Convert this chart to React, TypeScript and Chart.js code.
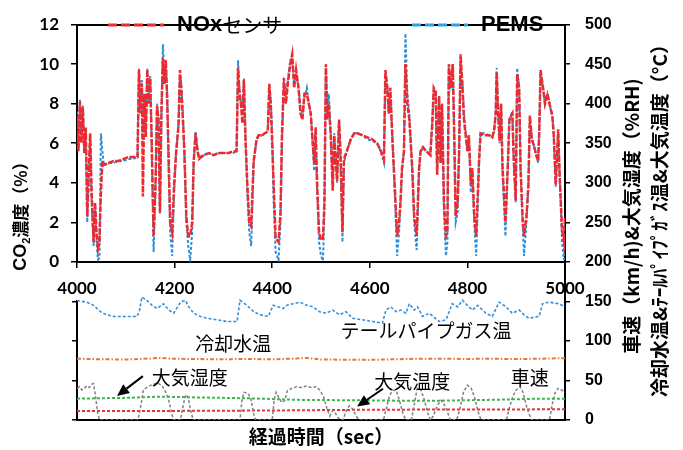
import React, { useEffect, useRef } from 'react';
import { Chart, registerables } from 'chart.js';

Chart.register(...registerables);

// ---- CO2 concentration (top panel, left axis, %) ----
const co2Time = [
  4000, 4003, 4006, 4009, 4012, 4015, 4018, 4021, 4024, 4027,
  4030, 4034, 4037, 4040, 4043, 4046, 4049, 4052, 4055, 4065,
  4075, 4085, 4095, 4105, 4115, 4124, 4127, 4130, 4133, 4135,
  4138, 4141, 4144, 4147, 4150, 4153, 4157, 4161, 4164, 4167,
  4170, 4173, 4176, 4179, 4182, 4185, 4188, 4191, 4195, 4199,
  4203, 4208, 4211, 4214, 4217, 4220, 4224, 4228, 4232, 4236,
  4239, 4243, 4247, 4250, 4260, 4270, 4280, 4290, 4300, 4310,
  4320, 4327, 4330, 4333, 4336, 4339, 4342, 4345, 4349, 4353,
  4357, 4362, 4368, 4372, 4379, 4385, 4391, 4394, 4397, 4400,
  4403, 4407, 4413, 4417, 4420, 4424, 4428, 4432, 4437, 4441,
  4445, 4449, 4454, 4458, 4462, 4466, 4471, 4475, 4479, 4482,
  4486, 4489, 4492, 4496, 4500, 4504, 4507, 4510, 4513, 4516,
  4520, 4524, 4527, 4533, 4537, 4540, 4544, 4547, 4553, 4561,
  4568, 4575, 4585, 4595, 4605, 4615, 4622, 4629, 4632, 4636,
  4639, 4642, 4646, 4651, 4656, 4660, 4663, 4666, 4670, 4673,
  4677, 4681, 4687, 4691, 4696, 4701, 4704, 4709, 4715, 4720,
  4724, 4728, 4731, 4735, 4738, 4742, 4745, 4748, 4752, 4756,
  4759, 4762, 4766, 4770, 4773, 4776, 4780, 4783, 4786, 4790,
  4793, 4800, 4803, 4807, 4810, 4814, 4818, 4824, 4827, 4835,
  4845, 4851, 4855, 4858, 4860, 4863, 4866, 4869, 4872, 4878,
  4883, 4886, 4892, 4895, 4899, 4902, 4906, 4909, 4913, 4916,
  4921, 4925, 4928, 4932, 4936, 4941, 4945, 4947, 4950, 4955,
  4959, 4964, 4970, 4974, 4977, 4981, 4986, 4989, 4994, 4998,
  5000,
];
const noxSensor = [
  7.4, 5.6, 8.1, 6.0, 7.8, 5.5, 6.8, 2.3, 4.5, 6.5,
  3.5, 1.0, 3.0, 1.5, 0.65, 1.0, 3.5, 5.1, 4.9, 5.0,
  5.1, 5.1, 5.2, 5.3, 5.3, 5.3, 9.7, 7.5, 9.0, 3.3,
  8.5, 6.3, 9.7, 8.0, 9.3, 6.1, 1.3, 4.0, 7.9, 7.2,
  2.5, 7.5, 10.3, 9.0, 10.2, 8.0, 5.0, 2.0, 1.5, 3.9,
  5.5, 6.9, 9.7, 8.5, 7.2, 5.6, 2.3, 1.3, 1.3, 2.0,
  5.0, 6.5, 5.6, 5.2, 5.4, 5.5, 5.4, 5.5, 5.5, 5.5,
  5.6, 5.6, 9.8, 8.5, 8.0, 7.0, 9.2, 6.4, 3.9, 2.0,
  1.8, 5.1, 6.2, 6.4, 6.4, 6.5, 6.6, 9.0, 8.0, 6.0,
  3.9, 1.2, 1.0, 2.5, 6.4, 9.3, 8.0, 9.0, 10.0, 10.5,
  8.8, 9.7, 8.8, 7.5, 7.2, 8.5, 8.5, 8.0, 7.5, 6.4,
  5.0, 6.8, 4.0, 1.5, 1.1, 1.2, 3.0, 10.0, 7.2, 8.0,
  6.4, 3.6, 6.4, 4.1, 7.2, 5.6, 1.5, 5.2, 5.6, 6.2,
  6.5, 6.5, 6.4, 6.3, 6.2, 6.0, 5.65, 5.2, 9.7, 8.8,
  7.5, 8.8, 6.4, 3.9, 1.3, 2.0, 3.1, 4.75, 5.6, 10.0,
  8.0, 7.2, 4.75, 2.3, 1.3, 4.75, 5.6, 5.8, 5.6, 5.5,
  5.4, 7.0, 8.8, 8.6, 4.4, 8.4, 5.0, 8.0, 3.0, 1.3,
  1.5, 10.0, 8.8, 10.0, 6.4, 2.3, 3.0, 5.6, 10.5, 8.8,
  7.2, 5.6, 6.4, 3.9, 4.75, 2.3, 1.3, 5.2, 6.5, 6.4,
  6.4, 6.3, 6.7, 7.5, 9.6, 7.5, 6.1, 8.0, 4.75, 2.0,
  5.0, 7.2, 7.5, 5.2, 3.1, 9.5, 8.8, 4.75, 2.3, 1.3,
  2.3, 3.9, 7.4, 6.2, 5.9, 5.4, 5.1, 6.4, 9.7, 8.8,
  8.0, 8.5, 7.8, 7.4, 6.4, 3.9, 6.7, 4.4, 1.6, 1.0,
  2.3,
];
const pems = [
  7.6, 5.8, 8.2, 6.3, 7.9, 5.7, 6.6, 2.0, 4.0, 6.4,
  3.0, 0.8, 2.8, 1.0, 0.1, 0.2, 6.5, 5.6, 4.9, 5.0,
  5.0, 5.1, 5.1, 5.2, 5.2, 5.3, 9.8, 7.8, 9.2, 6.5,
  8.5, 6.5, 9.8, 8.0, 9.4, 6.0, 0.5, 4.0, 8.0, 7.2,
  2.45, 7.5, 11.0, 9.5, 10.0, 8.5, 4.5, 1.5, 0.3, 3.5,
  5.5, 6.9, 9.5, 9.0, 7.5, 5.5, 2.0, 0.8, 0.1, 1.5,
  5.0, 6.6, 5.7, 5.3, 5.4, 5.5, 5.4, 5.5, 5.5, 5.5,
  5.5, 5.6, 10.2, 8.7, 8.0, 7.5, 9.3, 6.5, 3.5, 1.5,
  0.8, 5.0, 6.2, 6.3, 6.4, 6.5, 6.6, 8.8, 8.2, 6.5,
  3.0, 0.5, 0.08, 2.0, 6.0, 9.0, 8.5, 9.2, 10.2, 10.3,
  9.0, 9.5, 8.8, 7.8, 7.5, 8.3, 8.8, 8.0, 7.5, 6.4,
  4.6, 6.5, 3.6, 1.0, 0.3, 0.05, 2.5, 9.8, 7.5, 8.5,
  6.5, 4.0, 6.5, 4.0, 7.0, 5.0, 1.0, 5.0, 5.6, 6.2,
  6.5, 6.5, 6.4, 6.2, 6.1, 6.0, 5.6, 5.0, 9.5, 8.8,
  7.5, 8.5, 6.4, 3.5, 0.3, 1.5, 3.0, 4.6, 5.6, 11.55,
  8.5, 7.5, 4.5, 2.0, 0.6, 4.6, 5.5, 5.8, 5.6, 5.5,
  5.4, 7.0, 8.6, 8.6, 4.5, 8.3, 5.0, 8.0, 2.5, 0.3,
  1.0, 9.8, 9.0, 10.0, 6.5, 2.0, 2.5, 5.5, 10.0, 9.0,
  7.5, 5.6, 6.4, 3.5, 4.6, 2.0, 0.3, 5.0, 6.5, 6.5,
  6.4, 6.3, 6.6, 7.6, 9.8, 7.6, 6.0, 8.0, 4.5, 1.3,
  4.9, 7.2, 7.6, 5.1, 3.0, 9.8, 8.8, 4.5, 2.0, 0.3,
  2.0, 3.8, 7.2, 6.3, 5.9, 5.4, 5.0, 6.4, 9.5, 8.8,
  8.0, 8.5, 7.8, 7.4, 6.4, 3.8, 6.5, 4.4, 1.0, 0.1,
  2.0,
];

// ---- bottom panel (right axis) ----
const speedTime = [
  4000, 4005, 4010, 4015, 4020, 4025, 4030, 4034, 4038, 4042,
  4046, 4125, 4130, 4136, 4145, 4155, 4165, 4175, 4182, 4188,
  4194, 4198, 4212, 4218, 4223, 4228, 4233, 4238, 4334, 4338,
  4342, 4350, 4356, 4362, 4366, 4400, 4404, 4408, 4414, 4420,
  4426, 4431, 4440, 4450, 4460, 4470, 4480, 4490, 4497, 4505,
  4512, 4518, 4524, 4530, 4536, 4545, 4552, 4558, 4565, 4572,
  4578, 4628, 4634, 4640, 4647, 4655, 4662, 4668, 4674, 4685,
  4690, 4697, 4705, 4712, 4718, 4724, 4730, 4738, 4746, 4752,
  4758, 4765, 4778, 4785, 4792, 4800, 4808, 4815, 4822, 4828,
  4880, 4886, 4893, 4900, 4908, 4914, 4920, 4926, 4932, 4968,
  4974, 4980, 4986, 4993, 5000,
];
const vehicleSpeed = [
  40, 42, 38, 40, 43, 41, 45, 46, 30, 10,
  0, 0, 15, 38, 42, 45, 47, 43, 35, 25,
  8, 0, 0, 20, 32, 28, 12, 0, 0, 25,
  35, 34, 28, 8, 0, 0, 25, 35, 28, 22,
  25, 37, 40, 42, 41, 43, 41, 42, 38, 30,
  15, 5, 12, 8, 2, 0, 12, 18, 14, 5,
  0, 0, 15, 30, 38, 36, 22, 8, 0, 0,
  15, 40, 38, 25, 10, 0, 5, 18, 25, 20,
  12, 0, 0, 15, 35, 44, 40, 28, 10, 0,
  0, 15, 30, 38, 42, 35, 20, 8, 0, 0,
  20, 35, 40, 38, 35,
];
const tailTime = [
  4000, 4020, 4034, 4048, 4061, 4075, 4095, 4123, 4128, 4133,
  4143, 4154, 4164, 4177, 4188, 4198, 4212, 4222, 4229, 4239,
  4253, 4266, 4287, 4307, 4328, 4334, 4348, 4362, 4375, 4392,
  4402, 4413, 4422, 4430, 4443, 4457, 4471, 4484, 4497, 4510,
  4524, 4538, 4551, 4565, 4585, 4606, 4626, 4633, 4643, 4654,
  4664, 4674, 4681, 4691, 4698, 4708, 4722, 4742, 4756, 4769,
  4780, 4790, 4800, 4810, 4821, 4838, 4851, 4865, 4879, 4892,
  4906, 4916, 4926, 4947, 4954, 4967, 4988, 5000,
];
const tailpipeTemp = [
  151, 149, 145, 137, 133, 131, 130.8, 131, 138, 155.5,
  151.4, 145, 141, 147, 139, 135, 149, 151.4, 143, 135,
  131, 128.7, 126.7, 124.6, 124.6, 151.4, 145, 137, 133, 131,
  145, 143, 141, 145, 147, 149, 145, 143, 137, 135,
  139, 133, 137, 128.7, 126.7, 124.6, 122.5, 139, 143, 137,
  139, 135, 147, 139, 143, 131, 135, 124.6, 126.7, 147,
  143, 151.4, 145, 139, 145, 135, 131, 149, 143, 135,
  139, 133, 128.7, 131, 147, 149, 147, 143,
];
const coolantTime = [4000, 4050, 4100, 4150, 4170, 4200, 4250, 4300, 4350, 4400, 4450, 4470, 4500, 4550, 4600, 4650, 4700, 4750, 4800, 4850, 4900, 4950, 5000];
const coolantTemp = [77.5, 76.8, 76.5, 77.8, 78.5, 77.5, 77.0, 76.8, 77.2, 76.8, 77.8, 78.5, 76.5, 76.2, 76.0, 76.8, 77.5, 77.5, 77.2, 77.5, 77.0, 77.5, 78.2];
const humidityTime = [4000, 4100, 4170, 4250, 4350, 4450, 4550, 4650, 4750, 4850, 4950, 5000];
const airHumidity = [27, 28, 29.5, 28.5, 27.5, 25.5, 25, 24.5, 24.5, 25.5, 27, 27];
const airTempTime = [4000, 4200, 4400, 4600, 4800, 5000];
const airTemp = [11.5, 11.5, 12, 13, 13.3, 13.5];

// ---- texts ----
const xTitle = '経過時間（sec）';
const rightTitleLines = ['車速（km/h)&大気湿度（%RH)', '冷却水温&ﾃｰﾙﾊﾟｲﾌﾟｶﾞｽ温&大気温度（°C）'];
const annotations = [
  { text: '冷却水温', t: 4320, v: 97 },
  { text: 'テールパイプガス温', t: 4715, v: 113 },
  { text: '大気湿度', t: 4231, v: 54 },
  { text: '大気温度', t: 4687, v: 48 },
  { text: '車速', t: 4928, v: 53 },
];
const arrowList = [
  { from: [4135, 55.5], to: [4082, 30.5] },
  { from: [4627, 39.5], to: [4574, 17] },
];

const zip = (xs: number[], ys: number[]) => xs.map((x, i) => ({ x, y: ys[i] }));

const JP = '"Noto Sans CJK JP"';
const LAT = '"Liberation Sans"';

function drawRuns(ctx: CanvasRenderingContext2D, text: string, x: number, y: number, latinFont: string, cjkFont: string) {
  const runs = text.match(/[\x00-\x7F]+|[^\x00-\x7F]+/g) || [];
  let cx = x;
  ctx.textAlign = 'left';
  ctx.textBaseline = 'middle';
  for (const r of runs) {
    ctx.font = /^[\x00-\x7F]+$/.test(r) ? latinFont : cjkFont;
    ctx.fillText(r, cx, y);
    cx += ctx.measureText(r).width;
  }
}

const legendSlots = [{ x: 108, y: 25 }, { x: 412, y: 25 }];

const overlayPlugin = {
  id: 'overlay',
  afterDraw(chart: any) {
    const ctx: CanvasRenderingContext2D = chart.ctx;
    const xs = chart.scales.x;
    const yr = chart.scales.yR;
    ctx.save();
    ctx.fillStyle = '#000';

    // legend
    chart.data.datasets.slice(0, 2).forEach((ds: any, i: number) => {
      const s = legendSlots[i];
      ctx.save();
      ctx.strokeStyle = ds.legendColor || ds.borderColor;
      ctx.lineWidth = 3;
      ctx.setLineDash([9, 4]);
      ctx.beginPath();
      ctx.moveTo(s.x, s.y);
      ctx.lineTo(s.x + 56, s.y);
      ctx.stroke();
      ctx.restore();
      drawRuns(ctx, ds.label, s.x + 69, s.y, `bold 22px ${LAT}`, `400 20px ${JP}`);
    });

    // left title with subscript
    ctx.save();
    ctx.translate(21, 212);
    ctx.rotate(-Math.PI / 2);
    const parts = [
      { t: 'CO', f: `bold 18px ${LAT}`, dy: 0 },
      { t: '2', f: `bold 11px ${LAT}`, dy: 6 },
      { t: '濃度（%）', f: `bold 17px ${JP}`, dy: 0 },
    ];
    let total = 0;
    parts.forEach((p) => { ctx.font = p.f; total += ctx.measureText(p.t).width; });
    let px = -total / 2;
    ctx.textBaseline = 'middle';
    ctx.textAlign = 'left';
    parts.forEach((p) => { ctx.font = p.f; ctx.fillText(p.t, px, p.dy); px += ctx.measureText(p.t).width; });
    ctx.restore();

    // right title (two lines, reading bottom to top)
    const rx = [632, 660];
    rightTitleLines.forEach((line, i) => {
      ctx.save();
      ctx.translate(rx[i], 216);
      ctx.rotate(-Math.PI / 2);
      ctx.font = `bold 19px ${JP}`;
      ctx.textAlign = 'center';
      ctx.textBaseline = 'middle';
      ctx.fillText(line, 0, 0);
      ctx.restore();
    });

    // annotations
    ctx.font = `400 19px ${JP}`;
    ctx.textAlign = 'center';
    ctx.textBaseline = 'middle';
    annotations.forEach((a) => {
      ctx.fillText(a.text, xs.getPixelForValue(a.t), yr.getPixelForValue(a.v));
    });

    // arrows
    arrowList.forEach((a) => {
      const x0 = xs.getPixelForValue(a.from[0]);
      const y0 = yr.getPixelForValue(a.from[1]);
      const x1 = xs.getPixelForValue(a.to[0]);
      const y1 = yr.getPixelForValue(a.to[1]);
      const ang = Math.atan2(y1 - y0, x1 - x0);
      const head = 12;
      const hw = 5.5;
      const bx = x1 - head * Math.cos(ang);
      const by = y1 - head * Math.sin(ang);
      ctx.strokeStyle = '#000';
      ctx.lineWidth = 2;
      ctx.beginPath();
      ctx.moveTo(x0, y0);
      ctx.lineTo(bx, by);
      ctx.stroke();
      ctx.beginPath();
      ctx.moveTo(x1, y1);
      ctx.lineTo(bx + hw * Math.sin(ang), by - hw * Math.cos(ang));
      ctx.lineTo(bx - hw * Math.sin(ang), by + hw * Math.cos(ang));
      ctx.closePath();
      ctx.fill();
    });
    ctx.restore();
  },
};

export default function App() {
  const ref = useRef<HTMLCanvasElement>(null);

  useEffect(() => {
    const canvas = ref.current;
    if (!canvas) return;
    const line = (label: string, data: any[], color: string, width: number, dash: number[], yAxisID: string, extra: any = {}) => ({
      label,
      data,
      borderColor: color,
      backgroundColor: color,
      borderWidth: width,
      borderDash: dash,
      pointRadius: 0,
      pointHoverRadius: 0,
      fill: false,
      tension: 0,
      xAxisID: 'x',
      yAxisID,
      ...extra,
    });

    const borderOpt = { display: true, color: '#000', width: 2 };
    const tickGrid = (len: number) => ({ display: true, drawOnChartArea: false, drawTicks: true, tickLength: len, color: '#000', lineWidth: 1.5 });
    const plain = (v: any) => String(v);

    const chart = new Chart(canvas, {
      type: 'line',
      data: {
        datasets: [
          line('NOxセンサ', zip(co2Time, noxSensor), '#EE2A2E', 2.5, [6, 1.5], 'y'),
          line('PEMS', zip(co2Time, pems), '#2D8DD8', 2, [3, 2], 'y', { legendColor: '#29A6E0' }),
          line('車速', zip(speedTime, vehicleSpeed), '#808080', 1.5, [3, 2], 'yR'),
          line('テールパイプガス温', zip(tailTime, tailpipeTemp), '#3A8ED8', 1.6, [3, 2], 'yR'),
          line('冷却水温', zip(coolantTime, coolantTemp), '#E2793B', 2, [4, 2, 1.5, 2], 'yR'),
          line('大気湿度', zip(humidityTime, airHumidity), '#3DB54A', 2, [3, 2], 'yR'),
          line('大気温度', zip(airTempTime, airTemp), '#E53335', 2, [3, 2], 'yR'),
        ] as any,
      },
      options: {
        animation: false,
        responsive: false,
        devicePixelRatio: 1,
        layout: { padding: 0 },
        plugins: { legend: { display: false }, tooltip: { enabled: false } },
        events: [],
        scales: {
          y: {
            type: 'linear',
            position: 'left',
            stack: 'L',
            stackWeight: 300,
            weight: 3,
            min: 0,
            max: 12,
            ticks: { stepSize: 2, autoSkip: false, callback: plain, color: '#000', padding: 12, font: { family: 'Lato', weight: 'bold', size: 17 } },
            grid: tickGrid(6),
            border: borderOpt,
            afterFit: (s: any) => { s.width = 77; },
          },
          yGap: {
            type: 'linear',
            position: 'left',
            stack: 'L',
            stackWeight: 50,
            weight: 2,
            display: false,
            afterFit: (s: any) => { s.width = 77; },
          },
          yLow: {
            type: 'linear',
            position: 'left',
            stack: 'L',
            stackWeight: 150,
            weight: 1,
            min: 0,
            max: 150,
            ticks: { stepSize: 50, autoSkip: false, callback: () => '', padding: 0 },
            grid: tickGrid(5),
            border: borderOpt,
            afterFit: (s: any) => { s.width = 77; },
          },
          yR: {
            type: 'linear',
            position: 'right',
            min: 0,
            max: 500,
            ticks: { stepSize: 50, autoSkip: false, callback: plain, color: '#000', padding: 15, font: { family: 'Liberation Sans', weight: 'bold', size: 16 } },
            grid: tickGrid(5),
            border: borderOpt,
            afterFit: (s: any) => { s.width = 118; },
          },
          x: {
            type: 'linear',
            position: { y: 0 } as any,
            min: 4000,
            max: 5000,
            ticks: { stepSize: 200, callback: plain, color: '#000', padding: 11, maxRotation: 0, autoSkip: false, font: { family: 'Lato', weight: 'bold', size: 17 } },
            grid: tickGrid(5),
            border: borderOpt,
          },
          xTop: {
            type: 'linear',
            position: 'top',
            min: 4000,
            max: 5000,
            ticks: { display: false },
            grid: { display: false },
            border: borderOpt,
            afterFit: (s: any) => { s.height = 14; },
          },
          xBottom: {
            type: 'linear',
            position: 'bottom',
            min: 4000,
            max: 5000,
            ticks: { display: false },
            grid: { display: false },
            border: borderOpt,
            title: {
              display: true,
              text: xTitle,
              color: '#000',
              padding: { top: 0, bottom: 2 },
              font: { family: 'Noto Sans CJK JP', weight: 'bold', size: 19 },
            },
            afterFit: (s: any) => { s.height = 30; },
          },
        } as any,
      },
      plugins: [overlayPlugin],
    } as any);

    return () => chart.destroy();
  }, []);

  return (
    <div style={{ position: 'fixed', left: 0, top: 0, width: 683, height: 450, background: '#fff' }}>
      <canvas ref={ref} width={683} height={450} style={{ width: 683, height: 450, display: 'block' }} />
    </div>
  );
}
